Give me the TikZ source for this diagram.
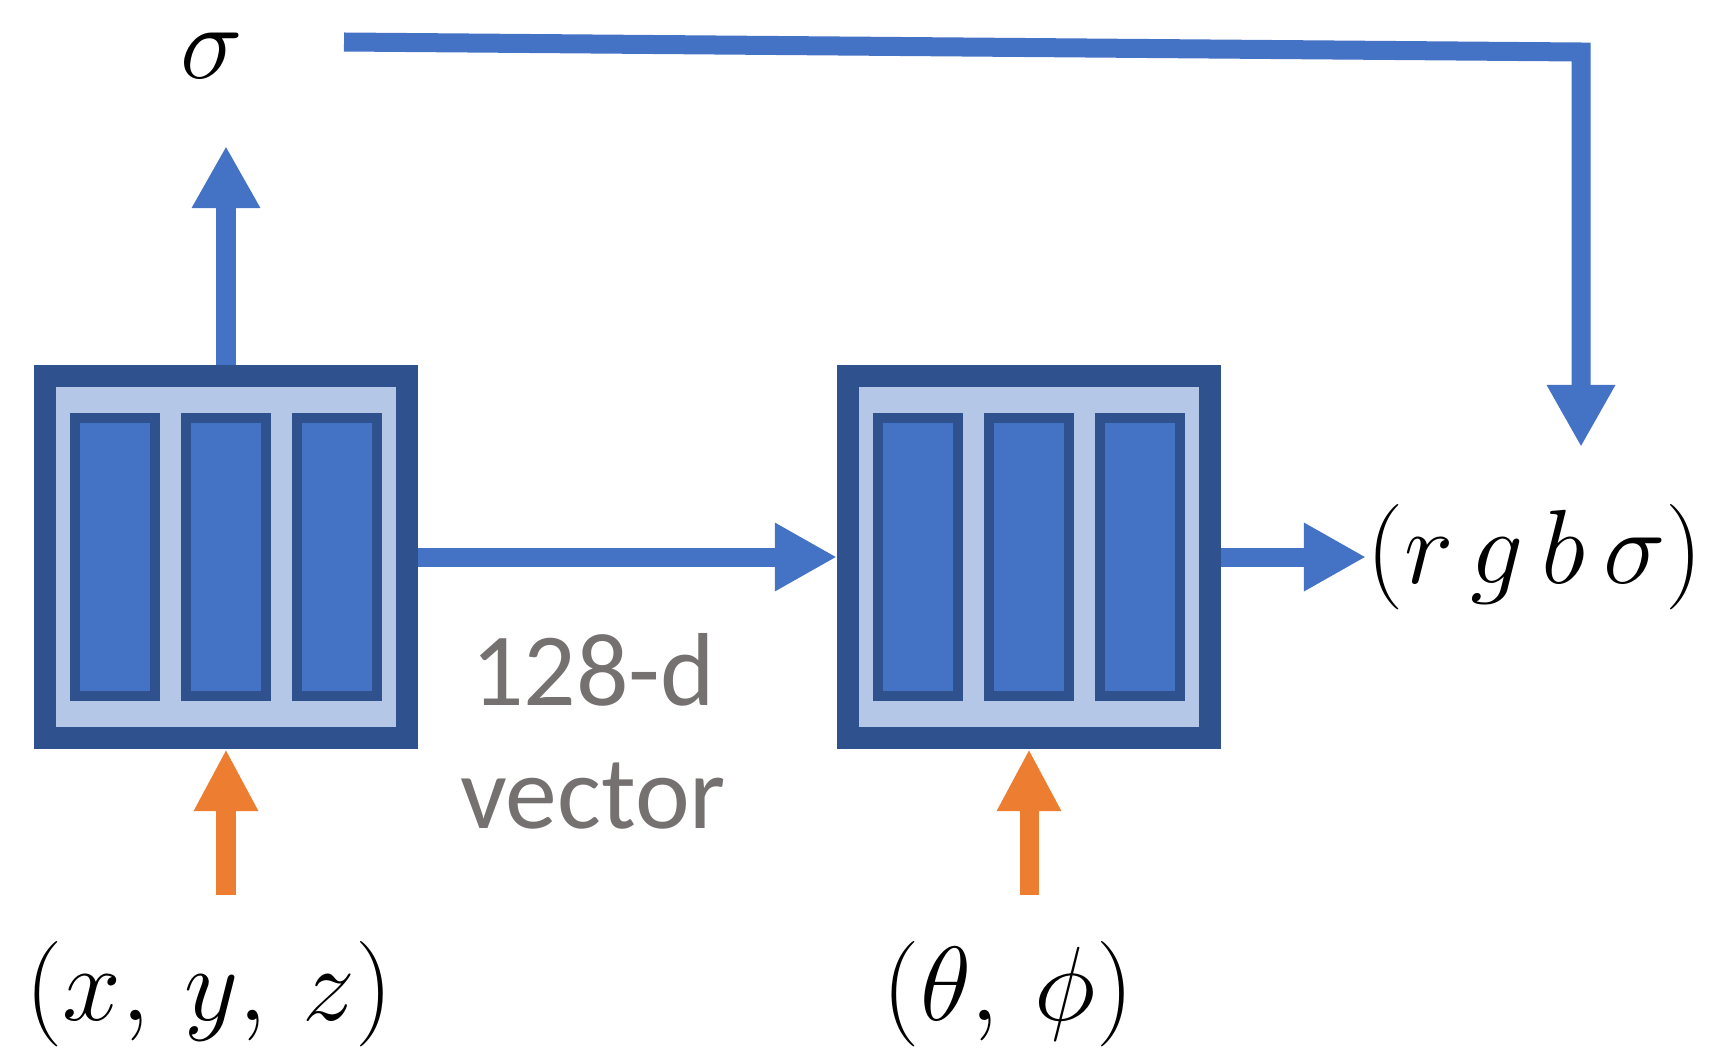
\RequirePackage{fix-cm}
\documentclass[tikz,border=0pt]{standalone}
\usepackage{fontspec}
\newfontfamily\calibri{Carlito}
\usetikzlibrary{arrows.meta}
\definecolor{accentblue}{RGB}{68,114,196}
\definecolor{darkblue}{RGB}{47,82,143}
\definecolor{paleblue}{RGB}{180,199,231}
\definecolor{accentorange}{RGB}{237,125,49}
\definecolor{textgray}{RGB}{118,113,113}

\begin{document}
\begin{tikzpicture}[x=0.01cm,y=-0.01cm,
  mlp/.style={draw=darkblue,fill=paleblue,line width=0.22cm,minimum size=3.62cm,inner sep=0},
  layer/.style={draw=darkblue,fill=accentblue,line width=0.1cm,minimum width=0.8cm,minimum height=2.78cm,inner sep=0},
  flow/.style={draw=accentblue,line width=0.19cm,-{Triangle[length=0.62cm,width=0.64cm]}},
  inflow/.style={draw=accentorange,line width=0.19cm,-{Triangle[length=0.62cm,width=0.6cm]}},
  lbl/.style={font=\fontsize{30}{36}\selectfont,inner sep=0}]
\useasboundingbox (0,0) rectangle (1722,1051);
\node[mlp] (mlp1) at (226,557) {};
\node[mlp] (mlp2) at (1029,557) {};
\foreach \m in {1,2}
  \foreach \dx in {-1.11,0,1.11}
    \node[layer] at ([xshift=\dx cm]mlp\m.center) {};

\node[lbl] (sigma) at (212,56) {$\sigma$};
\node[lbl,anchor=west] (rgb) at (1366,557) {$(r\,g\,b\,\sigma)$};
\node[lbl] (xyz) at (209,994) {$(x,\,y,\,z)$};
\node[lbl] (view) at (1008,994) {$(\theta,\,\phi)$};
\node[font=\calibri\fontsize{29.5}{35}\selectfont,text=textgray,align=center] (feat) at (593,731) {128-d\\vector};

\coordinate (sigout) at (226,146);
\coordinate (bend) at (1581,52);
\coordinate (rgbin) at (1581,447);
\coordinate (xyzin) at (226,895);
\coordinate (viewin) at (1029,895);

\draw[flow] (mlp1.north) -- (sigout);
\draw[flow] ([xshift=1cm,yshift=0.14cm]sigma.east) -- (bend) -- (rgbin);
\draw[flow] (mlp1.east) -- (mlp2.west);
\draw[flow] (mlp2.east) -- (rgb.west);
\draw[inflow] (xyzin) -- (mlp1.south);
\draw[inflow] (viewin) -- (mlp2.south);
\end{tikzpicture}
\end{document}
